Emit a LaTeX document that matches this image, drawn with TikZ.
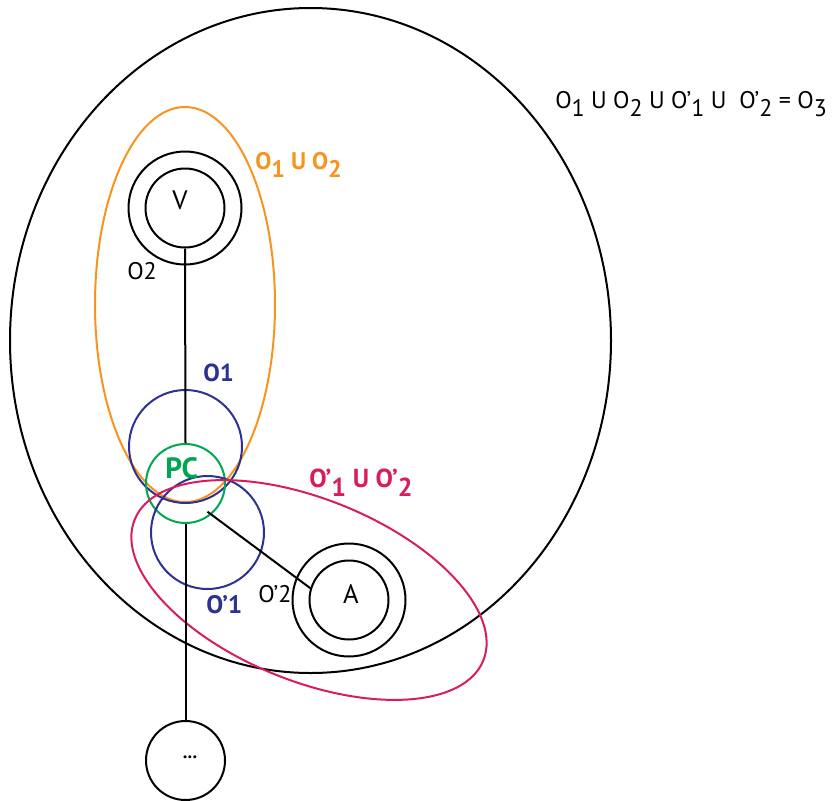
\documentclass[tikz,border=0pt]{standalone}
\usepackage{fontspec}
\setmainfont{PT Sans}
\usetikzlibrary{shapes.geometric}
\definecolor{orng}{HTML}{F7941D}
\definecolor{navy}{HTML}{2E3192}
\definecolor{grn}{HTML}{00A651}
\definecolor{pnk}{HTML}{D91C5C}
\newcommand\lo[1]{\raisebox{-0.36em}{#1}}
\begin{document}
\begin{tikzpicture}[x=0.75pt,y=-0.75pt,
  lw/.style={line width=1.5pt},
  ring/.style={circle,draw=black,lw,inner sep=0pt},
  smallring/.style={ring,minimum size=59.25pt},
  bigring/.style={ring,minimum size=84.75pt},
  bluering/.style={ring,draw=navy,minimum size=84.75pt},
  greenring/.style={ring,draw=grn,minimum size=59.25pt},
  oval/.style={ellipse,draw,lw,inner sep=0pt},
  txt/.style={anchor=base west,inner sep=0pt,font=\fontsize{18}{20}\selectfont},
  btxt/.style={anchor=base west,inner sep=0pt,font=\bfseries}]
\useasboundingbox (0,0) rectangle (832,800);
% big ellipse O3
\node[oval,minimum width=450.75pt,minimum height=498.75pt] (O3) at (310.5,340.5) {};
% orange ellipse
\node[oval,draw=orng,minimum width=135pt,minimum height=296.25pt] (O12) at (185,304.5) {};
% V
\node[bigring] (vout) at (185,208) {};
\node[smallring] (vin) at (185,208) {};
\node[inner sep=0pt,font=\fontsize{20}{22}\selectfont] (vlab) at (180,200) {V};
% O1, PC, O'1
\node[bluering] (o1c) at (185.5,446.5) {};
\node[greenring] (pc) at (185.5,483.5) {};
\node[bluering] (o1pc) at (207.5,532.5) {};
% pink ellipse
\node[oval,draw=pnk,minimum width=282pt,minimum height=136.5pt,rotate=-22] (O12p) at (309,590) {};
% A
\node[bigring] (aout) at (349,600) {};
\node[smallring] (ain) at (349,600) {};
\node[inner sep=0pt,font=\fontsize{20}{22}\selectfont] (alab) at (351,594.5) {A};
% dots node
\node[smallring] (dots) at (185.5,760.5) {};
\node[inner sep=0pt,font=\bfseries\fontsize{14}{16}\selectfont] (dlab) at (190,757) {...};
% connectors
\draw[lw] (vin.south) -- (pc.north);
\draw[lw] (pc.south) -- (dots.north);
\coordinate (pcend) at (207.5,511.7);
\draw[lw] (pcend) -- (ain.163);
% labels
\node[txt] (eq) at (555,108) {O\lo{1} U O\lo{2} U O’\lo{1} U\ \ O’\lo{2} = O\lo{3}};
\node[txt] (o2lab) at (127,279) {O2};
\node[txt] (op2lab) at (258,602) {O’2};
\node[btxt,text=orng,font=\bfseries\fontsize{18}{20}\selectfont] (orlab) at (255,169) {O\lo{1} U O\lo{2}};
\node[btxt,text=navy,font=\bfseries\fontsize{18.5}{20}\selectfont] (o1lab) at (203,381) {O1};
\node[btxt,text=grn,font=\bfseries\fontsize{22}{24}\selectfont] (pclab) at (165,478) {PC};
\node[btxt,text=pnk,font=\bfseries\fontsize{19.5}{21}\selectfont] (pklab) at (309,487) {O’\lo{1} U\ O’\lo{2}};
\node[btxt,text=navy,font=\bfseries\fontsize{19}{21}\selectfont] (o1plab) at (206,613) {O’1};
\end{tikzpicture}
\end{document}
